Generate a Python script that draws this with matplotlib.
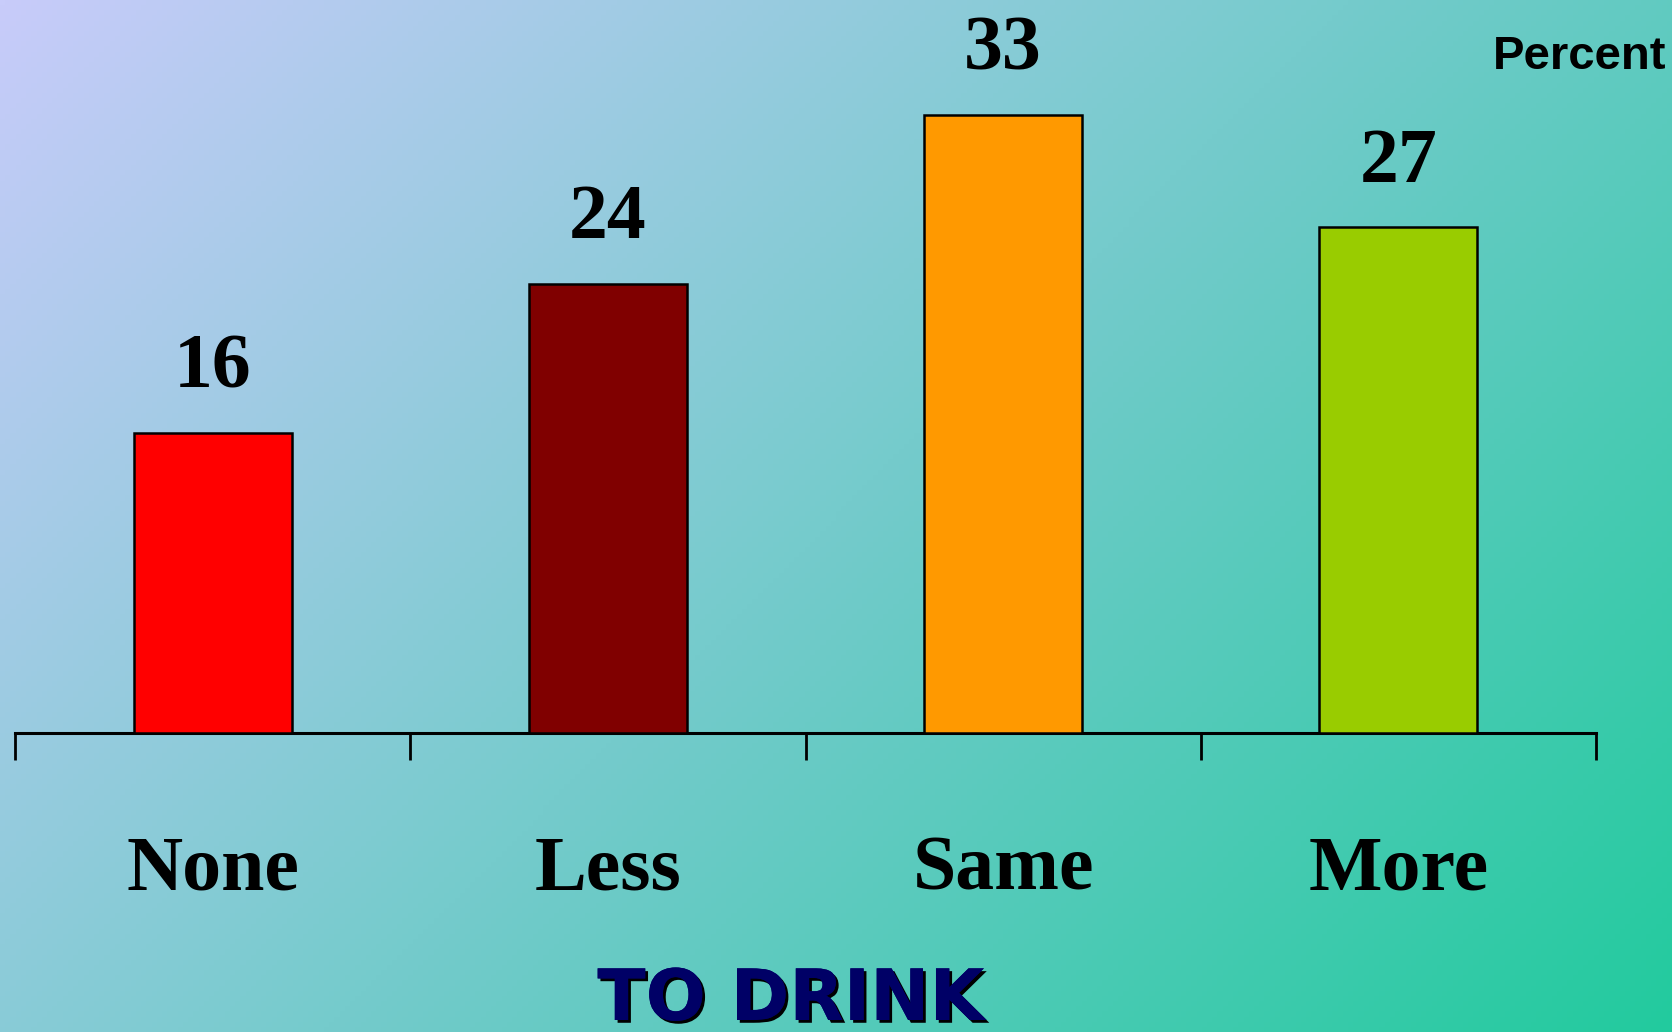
import matplotlib.pyplot as plt
import matplotlib.patheffects as pe
import numpy as np

plt.rcParams["figure.dpi"] = 100
plt.rcParams["savefig.dpi"] = 100

categories = ["None", "Less", "Same", "More"]
values = [16, 24, 33, 27]
bar_colors = ["#FF0000", "#800000", "#FF9900", "#99CC00"]

fig = plt.figure(figsize=(16.72, 10.32))

# Diagonal background gradient (lavender top-left -> teal bottom-right)
bg = fig.add_axes([0, 0, 1, 1], zorder=-10)
h, w = 200, 320
yy, xx = np.mgrid[0:h, 0:w]
t = (xx / (w - 1) * 0.62 + yy / (h - 1) * 0.38)
c0 = np.array([200, 204, 250]) / 255
c1 = np.array([34, 202, 158]) / 255
img = c0[None, None, :] * (1 - t[..., None]) + c1[None, None, :] * t[..., None]
bg.imshow(img, aspect="auto", extent=[0, 1, 0, 1], origin="upper")
bg.axis("off")

ax = fig.add_axes([15 / 1672, 299 / 1032, 1581 / 1672, 733 / 1032])
ax.patch.set_alpha(0)
x = np.arange(len(categories))
ax.bar(x, values, width=0.4, color=bar_colors, edgecolor="black", linewidth=1.8, zorder=3)
ax.set_xlim(-0.5, len(categories) - 0.5)
ax.set_ylim(0, 39.15)

for side in ["top", "left", "right"]:
    ax.spines[side].set_visible(False)
ax.spines["bottom"].set_linewidth(2.2)
ax.set_yticks([])

ax.set_xticks(np.arange(len(categories) + 1) - 0.5)
ax.set_xticklabels([])
ax.tick_params(axis="x", which="major", direction="out", length=19.5, width=2.0, color="black")
ax.set_xticks(x, minor=True)
ax.set_xticklabels(categories, minor=True, fontsize=56, fontweight="bold", family="Liberation Serif")
ax.tick_params(axis="x", which="minor", length=0, pad=113)
for lab in ax.get_xticklabels(minor=True):
    lab.set_va("baseline")

for xi, v in zip(x, values):
    ax.annotate(str(v), (xi, v), xytext=(0, 33), textcoords="offset points",
                ha="center", va="baseline", fontsize=56, fontweight="bold",
                family="Liberation Serif")

fig.text(1666 / 1672, 1 - 69 / 1032, "Percent", ha="right", va="baseline",
         fontsize=34, fontweight="bold", family="Liberation Sans")

fig.text(791 / 1672, 1 - 1020 / 1032, "TO DRINK", ha="center", va="baseline",
         fontsize=51, fontweight="bold", color="#000066", family="DejaVu Sans",
         path_effects=[pe.withSimplePatchShadow(offset=(2, -2), shadow_rgbFace="black", alpha=1.0),
                       pe.Normal()])

fig.savefig("out.png")
